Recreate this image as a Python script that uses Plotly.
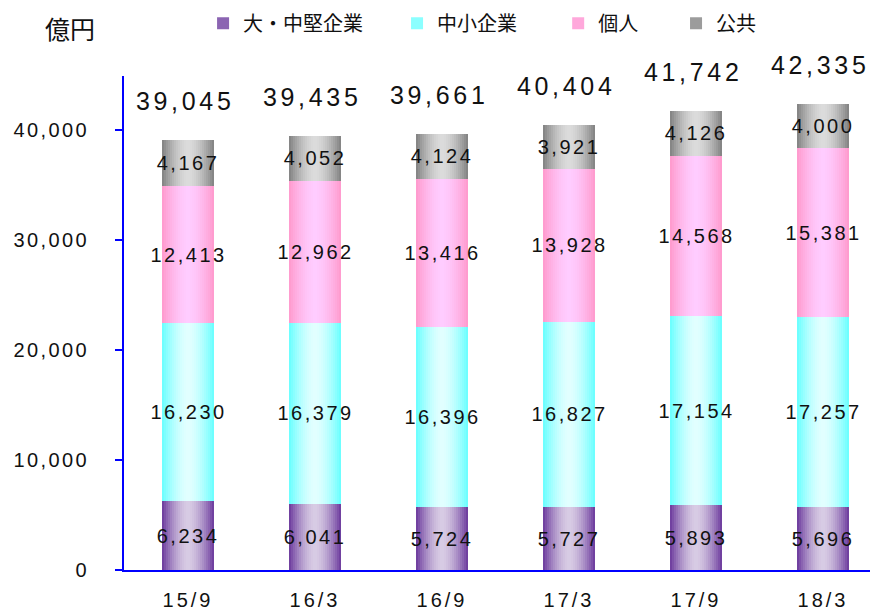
import plotly.graph_objects as go

categories = ["15/9", "16/3", "16/9", "17/3", "17/9", "18/3"]
large_mid = [6234, 6041, 5724, 5727, 5893, 5696]
sme = [16230, 16379, 16396, 16827, 17154, 17257]
individual = [12413, 12962, 13416, 13928, 14568, 15381]
public = [4167, 4052, 4124, 3921, 4126, 4000]
totals = [39045, 39435, 39661, 40404, 41742, 42335]
series_names = ["大・中堅企業", "中小企業", "個人", "公共"]
y_ticks = [0, 10000, 20000, 30000, 40000]

series_values = [large_mid, sme, individual, public]
# (edge colour, centre colour) for the horizontal gradient
grad = [
    ((0x6a, 0x38, 0x9c), (0xd8, 0xcc, 0xe4)),
    ((0x66, 0xff, 0xff), (0xe2, 0xff, 0xff)),
    ((0xff, 0x99, 0xcc), (0xff, 0xcc, 0xff)),
    ((0x80, 0x80, 0x80), (0xdc, 0xdc, 0xdc)),
]
legend_ids = ["legend", "legend2", "legend3", "legend4"]

BAR_W = 0.41
N_STRIPS = 26
sw = BAR_W / N_STRIPS

def mix(c1, c2, t):
    return "rgb(%d,%d,%d)" % tuple(round(a + (b - a) * t) for a, b in zip(c1, c2))

fig = go.Figure()

bases = [0] * len(categories)
annotations = []
for s, vals in enumerate(series_values):
    edge, centre = grad[s]
    for i in range(N_STRIPS):
        off = -BAR_W / 2 + i * sw
        mid = off + sw / 2
        t = abs(mid) / (BAR_W / 2)
        col = mix(centre, edge, t ** 1.6)
        w = sw * 1.6 if i < N_STRIPS - 1 else sw
        fig.add_trace(go.Bar(
            x=categories, y=vals, base=list(bases),
            width=w, offset=off,
            marker=dict(color=col, line=dict(width=0)),
            showlegend=False, hoverinfo="skip",
        ))
    # legend entry
    fig.add_trace(go.Bar(
        x=[None], y=[None], name=series_names[s],
        marker=dict(color=mix(centre, edge, 0.7), line=dict(width=0)),
        showlegend=True, legend=legend_ids[s],
    ))
    for k, v in enumerate(vals):
        annotations.append(dict(
            x=categories[k], y=bases[k] + v / 2, text=f"{v:,}",
            showarrow=False, xanchor="center", yanchor="middle",
            font=dict(family="Liberation Sans, Arial", size=20, color="#111111"),
        ))
    bases = [b + v for b, v in zip(bases, vals)]

for k, tot in enumerate(totals):
    annotations.append(dict(
        x=categories[k], y=tot, text=f"{tot:,}", showarrow=False,
        xanchor="center", yanchor="middle", yshift=39, xshift=-3,
        font=dict(family="Liberation Sans, Arial", size=25, color="#111111"),
    ))

annotations.append(dict(
    xref="paper", yref="paper", x=-0.072, y=1.097, text="億円",
    showarrow=False, xanchor="center", yanchor="middle",
    font=dict(family="Noto Sans CJK JP", size=25, color="#111111"),
))

legend_x = [0.106, 0.366, 0.582, 0.740]
leg_common = dict(orientation="h", yanchor="middle", y=1.107, xanchor="left",
                  bgcolor="rgba(0,0,0,0)", borderwidth=0, itemwidth=30,
                  font=dict(family="Noto Sans CJK JP", size=20, color="#111111"))

layout_legends = {}
for lid, lx in zip(legend_ids, legend_x):
    layout_legends[lid] = dict(x=lx, **leg_common)

fig.update_layout(
    width=870, height=610,
    margin=dict(l=124, r=0, t=76, b=40, autoexpand=False),
    paper_bgcolor="white", plot_bgcolor="white",
    barmode="overlay", bargap=0,
    showlegend=True,
    annotations=annotations,
    **layout_legends,
)
fig.update_xaxes(
    type="category", range=[-0.504, 5.37], automargin=False,
    showline=True, linecolor="#0000ff", linewidth=2,
    ticks="", showgrid=False, zeroline=False,
    ticklabelstandoff=11,
    tickfont=dict(family="Liberation Sans, Arial", size=20, color="#111111"),
)
fig.update_yaxes(
    range=[0, 44900], tickvals=y_ticks, ticktext=[f"{v:,}" for v in y_ticks],
    automargin=False,
    showline=True, linecolor="#0000ff", linewidth=2,
    ticks="outside", ticklen=7, tickcolor="#0000ff", tickwidth=2,
    showgrid=False, zeroline=False,
    ticklabelstandoff=22,
    tickfont=dict(family="Liberation Sans, Arial", size=20, color="#111111"),
)

post = """
document.body.style.margin = '0';
document.body.style.overflow = 'hidden';
var gd = document.getElementById('{plot_id}');
function sp(){
  gd.querySelectorAll('.annotation-text').forEach(function(e){
    if (!/[\\u4e00-\\u9fff]/.test(e.textContent)) {
      var fs = parseFloat(e.style.fontSize || '20');
      e.style.letterSpacing = (fs > 22 ? '3.7px' : '2.5px');
    }
  });
  gd.querySelectorAll('.xtick text').forEach(function(e){ e.style.letterSpacing='3px'; });
  gd.querySelectorAll('.ytick text').forEach(function(e){ e.style.letterSpacing='2.4px'; });
}
sp();
gd.on('plotly_afterplot', sp);
"""

fig.write_html("out.html", post_script=post, config={"displayModeBar": False})
